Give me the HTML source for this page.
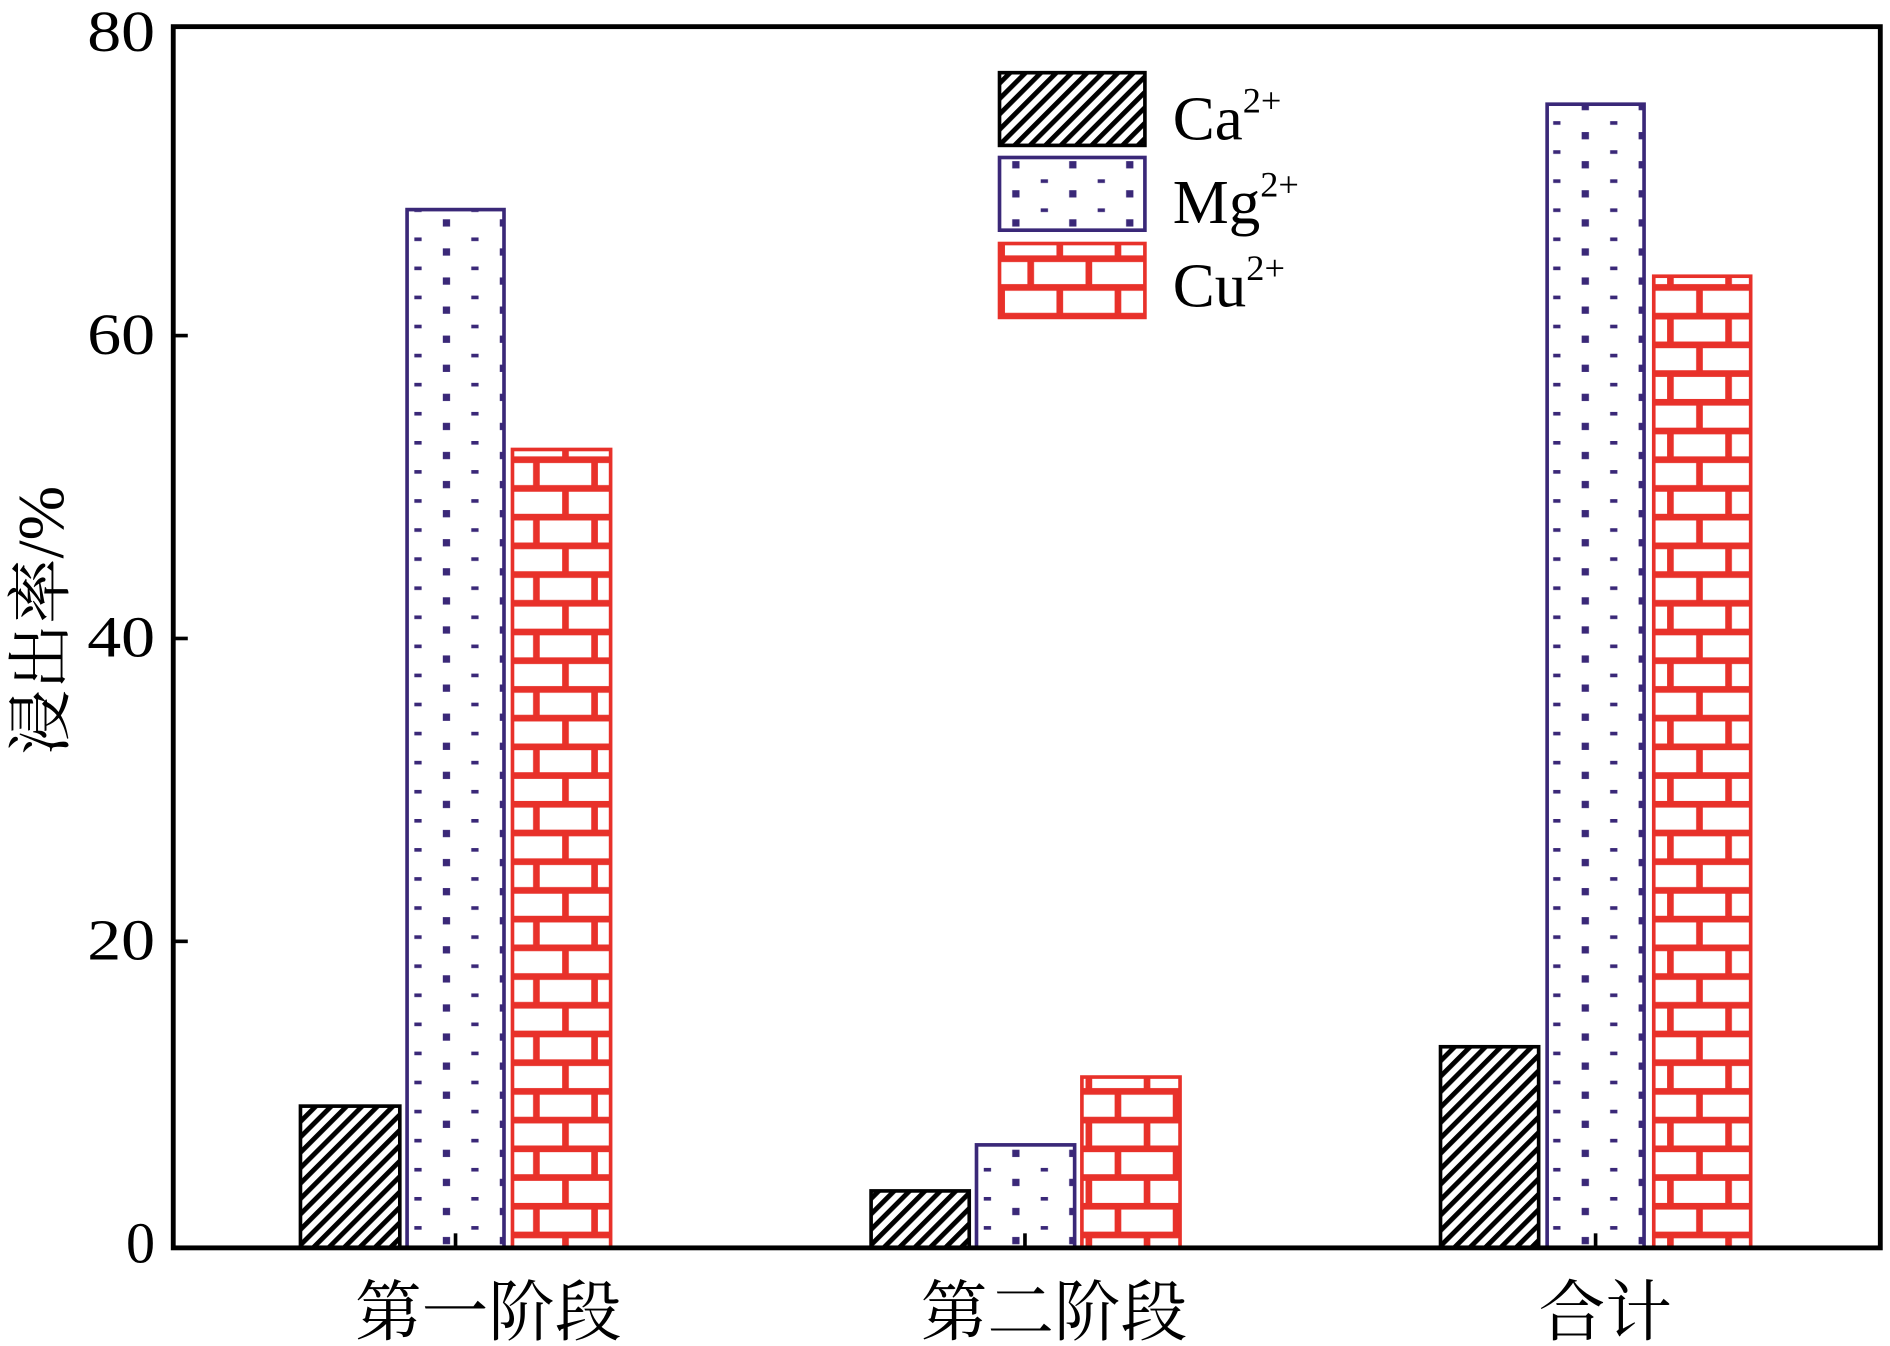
<!DOCTYPE html>
<html><head><meta charset="utf-8"><style>html,body{margin:0;padding:0;background:#fff}svg{display:block}</style></head>
<body>
<svg width="1890" height="1346" viewBox="0 0 1560 1111" preserveAspectRatio="none" xmlns="http://www.w3.org/2000/svg">
<defs>
<pattern id="hatch" patternUnits="userSpaceOnUse" width="9" height="9" patternTransform="rotate(45)">
<rect width="9" height="9" fill="#fff"/><rect x="0" y="0" width="4" height="9" fill="#000"/>
</pattern>
<pattern id="dots" patternUnits="userSpaceOnUse" x="345" y="4" width="47" height="24">
<rect width="47" height="24" fill="#fff"/>
<rect x="-3" y="-3" width="6" height="6" fill="#3a2878"/>
<rect x="44" y="-3" width="6" height="6" fill="#3a2878"/>
<rect x="20.5" y="9" width="6" height="6" fill="#3a2878"/>
</pattern>
<pattern id="brick" patternUnits="userSpaceOnUse" x="0" y="0" width="48" height="47.4">
<rect width="48" height="47.4" fill="#fff"/>
<g fill="#e8312a">
<rect x="0" y="-2.5" width="48" height="5.5"/>
<rect x="0" y="21.2" width="48" height="5.5"/>
<rect x="0" y="44.9" width="48" height="5.5"/>
<rect x="8" y="0" width="5.5" height="24"/>
<rect x="32" y="23.7" width="5.5" height="24"/>
</g>
</pattern>
</defs>
<g stroke-width="3">
<rect x="248" y="913" width="82" height="117" fill="url(#hatch)" stroke="#000"/>
<rect x="336" y="173" width="80" height="857" fill="url(#dots)" stroke="#3a2878"/>
<rect x="423" y="371" width="81" height="659" fill="url(#brick)" stroke="#e8312a"/>
<rect x="719" y="983" width="81" height="47" fill="url(#hatch)" stroke="#000"/>
<rect x="806" y="945" width="81" height="85" fill="url(#dots)" stroke="#3a2878"/>
<rect x="893" y="889" width="81" height="141" fill="url(#brick)" stroke="#e8312a"/>
<rect x="1189" y="864" width="81" height="166" fill="url(#hatch)" stroke="#000"/>
<rect x="1277" y="86" width="80" height="944" fill="url(#dots)" stroke="#3a2878"/>
<rect x="1365" y="228" width="80" height="802" fill="url(#brick)" stroke="#e8312a"/>
<rect x="825" y="60" width="120" height="60" fill="url(#hatch)" stroke="#000"/>
<rect x="825" y="130" width="120" height="60" fill="url(#dots)" stroke="#3a2878"/>
<rect x="825" y="201" width="120" height="61" fill="url(#brick)" stroke="#e8312a"/>
</g>
<g font-family="Liberation Serif, serif" fill="#000">
<text x="968" y="115" font-size="52">Ca<tspan font-size="30" dy="-22">2+</tspan></text>
<text x="968" y="184" font-size="52">Mg<tspan font-size="30" dy="-22">2+</tspan></text>
<text x="968" y="253" font-size="52">Cu<tspan font-size="30" dy="-22">2+</tspan></text>
</g>
<rect x="143" y="22" width="1409" height="1008" fill="none" stroke="#000" stroke-width="4"/>
<g stroke="#000" stroke-width="3">
<line x1="143" y1="777" x2="155" y2="777"/>
<line x1="143" y1="527" x2="155" y2="527"/>
<line x1="143" y1="277" x2="155" y2="277"/>
<line x1="376" y1="1030" x2="376" y2="1018"/>
<line x1="846" y1="1030" x2="846" y2="1018"/>
<line x1="1317" y1="1030" x2="1317" y2="1018"/>
</g>
<g font-family="Liberation Serif, serif" font-size="48" text-anchor="end" fill="#000">
<text x="128" y="1042">0</text>
<text x="128" y="792" textLength="56" lengthAdjust="spacingAndGlyphs">20</text>
<text x="128" y="542" textLength="56" lengthAdjust="spacingAndGlyphs">40</text>
<text x="128" y="292" textLength="56" lengthAdjust="spacingAndGlyphs">60</text>
<text x="128" y="42" textLength="56" lengthAdjust="spacingAndGlyphs">80</text>
</g>
<g font-family="Liberation Serif, 'Noto Serif CJK SC', serif" font-size="55" text-anchor="middle" fill="#000">
<text x="403" y="1102">第一阶段</text>
<text x="870" y="1102">第二阶段</text>
<text x="1325" y="1102">合计</text>
<text transform="translate(52,512) rotate(-90)" font-size="54">浸出率/%</text>
</g>
</svg>
</body></html>
